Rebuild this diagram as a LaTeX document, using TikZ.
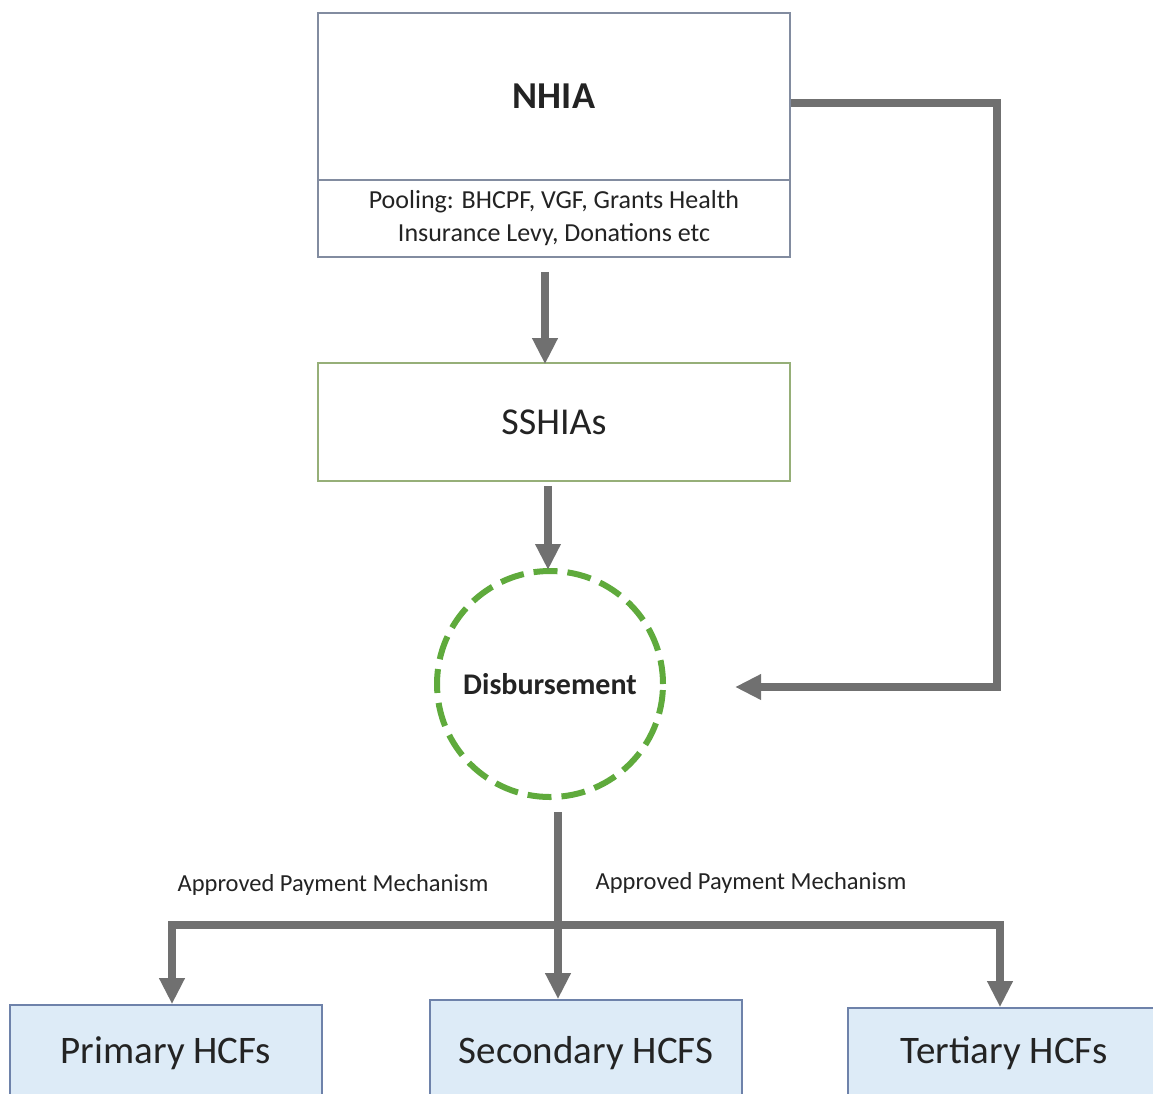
\documentclass[tikz,border=0pt]{standalone}
\usepackage{fontspec}
\setmainfont{Carlito}
\usetikzlibrary{arrows.meta,calc}
\definecolor{arrgray}{RGB}{112,112,112}
\definecolor{boxline}{RGB}{130,140,160}
\definecolor{greenline}{RGB}{150,175,120}
\definecolor{dashgreen}{RGB}{95,170,60}
\definecolor{hcffill}{RGB}{221,235,247}
\definecolor{hcfline}{RGB}{110,130,170}
\definecolor{txt}{RGB}{35,35,35}
\tikzset{
  conn/.style={draw=arrgray, line width=8pt},
  arr/.style={conn, -{Triangle[width=24pt,length=26pt]}},
  topbox/.style={draw=boxline, line width=1.6pt, fill=white, minimum width=472pt, inner sep=0pt, text=txt},
  hcf/.style={draw=hcfline, line width=1.6pt, fill=hcffill, minimum width=312pt, inner sep=0pt, text=txt, font=\fontsize{39}{42}\selectfont},
  lbl/.style={text=txt, font=\fontsize{24.5}{26}\selectfont, inner sep=0pt}
}
\begin{document}
\begin{tikzpicture}[x=1pt,y=-1pt]
\useasboundingbox (0,0) rectangle (1153,1093);
% top box
\node[topbox, minimum height=167pt, font=\fontsize{38}{40}\selectfont\bfseries] (nhia) at (554,96.5) {NHIA};
\node[topbox, minimum height=77pt, align=center, font=\fontsize{26}{33}\selectfont] (pool) at (554,218.5) {Pooling: BHCPF, VGF, Grants Health\\Insurance Levy, Donations etc};
\node[topbox, draw=greenline, minimum height=118pt, font=\fontsize{38}{40}\selectfont] (sshias) at (554,422) {SSHIAs};
\node[circle, draw=dashgreen, line width=6pt, dash pattern=on 24pt off 10pt, minimum size=226pt, inner sep=0pt, text=txt, font=\fontsize{30}{32}\selectfont\bfseries] (disb) at (550,684) {Disbursement};
% bottom boxes
\node[hcf, minimum height=96pt] (prim) at (166,1053) {Primary HCFs};
\node[hcf, minimum height=106pt] (sec) at (586,1053) {Secondary HCFS};
\node[hcf, minimum height=90pt] (ter) at (1004,1053) {Tertiary HCFs};
% coordinates
\coordinate (rin) at (735,687);
\coordinate (bar) at (558,925);
% connectors
\draw[arr] ([xshift=-9pt,yshift=-14pt]pool.south) -- ([xshift=-9pt,yshift=-2pt]sshias.north);
\draw[arr] ([xshift=-6pt,yshift=-4pt]sshias.south) -- ([xshift=-2pt,yshift=-2pt]disb.north);
\draw[arr] ([yshift=-6pt]nhia.east) -| (997,687) -- (rin);
\draw[conn] ([xshift=8pt,yshift=-12pt]disb.south) -- (bar);
\draw[arr] (bar) -- ([xshift=-28pt]sec.north);
\draw[arr] (bar) -| ([xshift=6pt]prim.north);
\draw[arr] (bar) -| ([xshift=-4pt]ter.north);
% labels
\node[lbl] (l1) at (333,885) {Approved Payment Mechanism};
\node[lbl] (l2) at (751,883) {Approved Payment Mechanism};
\end{tikzpicture}
\end{document}
